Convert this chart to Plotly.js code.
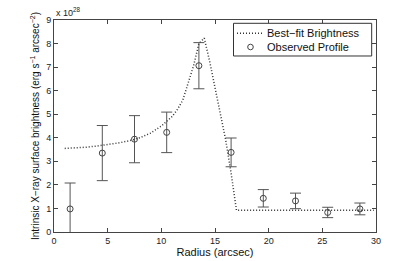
<!DOCTYPE html>
<html>
<head>
<meta charset="utf-8">
<script src="https://cdn.plot.ly/plotly-3.0.1.min.js"></script>
<style>html,body{margin:0;padding:0;background:#fff;}#chart{width:415px;height:261px;}</style>
</head>
<body>
<div id="chart"></div>
<script>
// Observed profile (units of 1e28)
var obsRadius = [1.5, 4.5, 7.5, 10.5, 13.5, 16.5, 19.5, 22.5, 25.5, 28.5];
var obsBright = [0.98, 3.35, 3.94, 4.23, 7.06, 3.38, 1.43, 1.32, 0.83, 0.98];
var obsErr    = [1.1, 1.17, 1.0, 0.86, 0.98, 0.61, 0.37, 0.33, 0.22, 0.25];

// Best-fit brightness curve
var fitRadius = [1, 2, 3, 4, 5, 6, 7, 8, 9, 10, 11, 11.5, 12, 12.5, 13, 13.5, 14, 14.5, 15, 15.5, 16, 16.5, 17, 20, 25, 29.8];
var fitBright = [3.55, 3.57, 3.6, 3.65, 3.71, 3.78, 3.87, 4.0, 4.2, 4.5, 4.9, 5.2, 5.6, 6.3, 7.05, 8.0, 8.23, 7.25, 6.1, 4.9, 3.9, 2.5, 0.92, 0.92, 0.92, 0.92];

var xTicks = [0, 5, 10, 15, 20, 25, 30];
var yTicks = [0, 1, 2, 3, 4, 5, 6, 7, 8, 9];
var legendLabels = ['Best\u2212fit Brightness', 'Observed Profile'];

var FONT = 'Liberation Sans, Arial, Helvetica, sans-serif';

var traces = [
  {
    x: fitRadius, y: fitBright, mode: 'lines', name: legendLabels[0],
    line: {color: '#333', width: 1.5, dash: '1px,2px'}
  },
  {
    x: obsRadius, y: obsBright, mode: 'markers', name: legendLabels[1],
    marker: {symbol: 'circle-open', size: 6, color: '#444', line: {width: 1, color: '#444'}},
    error_y: {type: 'data', array: obsErr, visible: true, color: '#555', thickness: 1, width: 5.5}
  }
];

// legend geometry (paper coordinates of the plot area)
var lgX0 = 0.5575, lgX1 = 0.9866, lgY0 = 0.8302, lgY1 = 0.9844;
var row1 = 0.9373, row2 = 0.8726;

var layout = {
  width: 415, height: 261,
  margin: {l: 54, r: 39, t: 20, b: 29},
  paper_bgcolor: '#fff', plot_bgcolor: '#fff',
  font: {family: FONT, size: 9, color: '#222'},
  showlegend: false,
  xaxis: {
    range: [0, 30], tickvals: xTicks, ticktext: xTicks.map(String),
    ticks: 'inside', ticklen: 4, tickcolor: '#444', tickwidth: 1,
    showline: true, linecolor: '#444', linewidth: 1, mirror: 'ticks',
    showgrid: false, zeroline: false,
    tickfont: {family: FONT, size: 9, color: '#222'},
    title: {text: 'Radius (arcsec)', font: {family: FONT, size: 11, color: '#111'}, standoff: 2}
  },
  yaxis: {
    range: [0, 9], tickvals: yTicks, ticktext: yTicks.map(String),
    ticks: 'inside', ticklen: 4, tickcolor: '#444', tickwidth: 1,
    showline: true, linecolor: '#444', linewidth: 1, mirror: 'ticks',
    showgrid: false, zeroline: false,
    tickfont: {family: FONT, size: 9, color: '#222'},
    title: {text: 'Intrinsic X\u2212ray surface brightness (erg s<sup>\u22121</sup> arcsec<sup>\u22122</sup>)', font: {family: FONT, size: 10, color: '#111'}, standoff: 4}
  },
  shapes: [
    {type: 'rect', xref: 'paper', yref: 'paper', x0: lgX0, x1: lgX1, y0: lgY0, y1: lgY1,
     fillcolor: '#fff', line: {color: '#333', width: 1}, layer: 'above'},
    {type: 'line', xref: 'paper', yref: 'paper', x0: 0.5683, x1: 0.6460, y0: row1, y1: row1,
     line: {color: '#333', width: 1.5, dash: '1px,2px'}},
    {type: 'circle', xref: 'paper', yref: 'paper', xsizemode: 'pixel', ysizemode: 'pixel',
     xanchor: 0.6102, yanchor: row2, x0: -2.8, x1: 2.8, y0: -2.8, y1: 2.8,
     line: {color: '#444', width: 1}}
  ],
  annotations: [
    {text: 'x 10<sup>28</sup>', xref: 'paper', yref: 'paper', x: 0, y: 1, xanchor: 'left', yanchor: 'bottom',
     showarrow: false, font: {family: FONT, size: 9, color: '#222'}},
    {text: legendLabels[0], xref: 'paper', yref: 'paper', x: 0.6568, y: row1, xanchor: 'left', yanchor: 'middle',
     showarrow: false, font: {family: FONT, size: 11, color: '#111'}},
    {text: legendLabels[1], xref: 'paper', yref: 'paper', x: 0.6568, y: row2, xanchor: 'left', yanchor: 'middle',
     showarrow: false, font: {family: FONT, size: 11, color: '#111'}}
  ]
};

Plotly.newPlot('chart', traces, layout, {displayModeBar: false, staticPlot: true});
</script>
</body>
</html>
